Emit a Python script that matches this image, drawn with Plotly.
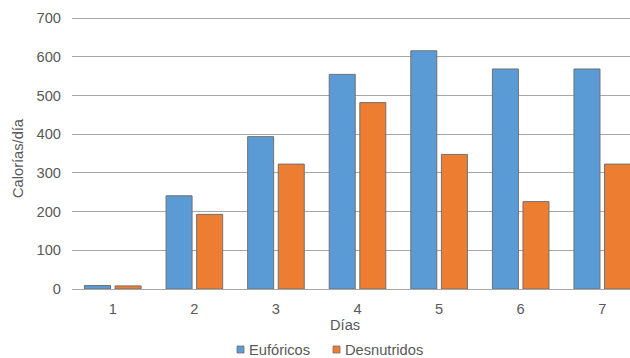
import plotly.graph_objects as go

# Datos: calorías diarias por grupo
dias = ["1", "2", "3", "4", "5", "6", "7"]
euforicos = [9, 241, 394, 555, 616, 569, 569]
desnutridos = [8, 193, 323, 482, 348, 226, 323]
y_ticks = [0, 100, 200, 300, 400, 500, 600, 700]

FONT = "Liberation Sans, Arial, sans-serif"
GRAY = "#595959"
FS = 14.67
BLUE = "#5B9BD5"
ORANGE = "#ED7D31"
EDGE = "#707070"

W, H = 630, 358
ML, MR, MT, MB = 72, 0, 16, 69
PW, PH = W - ML - MR, H - MT - MB


def px_x(x):
    return (x - ML) / PW


def px_y(y):
    return (H - MB - y) / PH


fig = go.Figure()
fig.add_trace(go.Bar(
    name="Eufóricos", x=dias, y=euforicos, showlegend=False,
    marker=dict(color=BLUE, line=dict(color=EDGE, width=1)),
))
fig.add_trace(go.Bar(
    name="Desnutridos", x=dias, y=desnutridos, showlegend=False,
    marker=dict(color=ORANGE, line=dict(color=EDGE, width=1)),
))

# Leyenda inferior: cuadro de color + texto
legend_items = [("Eufóricos", BLUE, 237), ("Desnutridos", ORANGE, 333)]
shapes = []
annotations = []
for label, color, x0 in legend_items:
    shapes.append(dict(
        type="rect", xref="paper", yref="paper",
        x0=px_x(x0), x1=px_x(x0 + 7), y0=px_y(346), y1=px_y(353),
        fillcolor=color, line=dict(color=EDGE, width=0.8),
    ))
    annotations.append(dict(
        text=label, xref="paper", yref="paper", x=px_x(x0 + 10), y=px_y(349.5),
        xanchor="left", yanchor="middle", showarrow=False,
        font=dict(size=FS, color=GRAY),
    ))

annotations += [
    dict(text="Calorías/día", xref="paper", yref="paper", x=px_x(18), y=px_y(158),
         xanchor="center", yanchor="middle", textangle=-90, showarrow=False,
         font=dict(size=FS, color=GRAY)),
    dict(text="Días", xref="paper", yref="paper", x=px_x(345), y=px_y(325),
         xanchor="center", yanchor="middle", showarrow=False,
         font=dict(size=FS, color=GRAY)),
]

fig.update_layout(
    width=W, height=H,
    margin=dict(l=ML, r=MR, t=MT, b=MB),
    paper_bgcolor="white", plot_bgcolor="white",
    barmode="group", bargap=0.25, bargroupgap=0.15,
    font=dict(family=FONT, size=FS, color=GRAY),
    showlegend=False,
    xaxis=dict(
        type="category", range=[-0.5, 6.34],
        showgrid=False, showline=True, linecolor="#a6a6a6", linewidth=1,
        ticks="", ticklabelstandoff=6, tickfont=dict(size=FS, color=GRAY),
    ),
    yaxis=dict(
        range=[0, 706], tickvals=y_ticks,
        showgrid=True, gridcolor="#a6a6a6", gridwidth=1,
        zeroline=False, showline=False, ticks="",
        ticklabelstandoff=10, tickfont=dict(size=FS, color=GRAY),
    ),
    shapes=shapes,
    annotations=annotations,
)

fig.write_html("out.html")
